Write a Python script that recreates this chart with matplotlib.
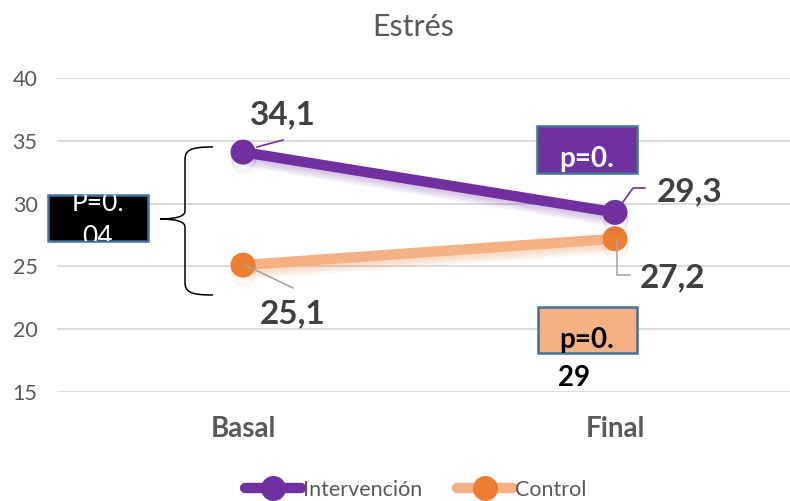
import matplotlib.pyplot as plt
import matplotlib.patheffects as pe
from matplotlib.patches import Rectangle, PathPatch
from matplotlib.path import Path
from matplotlib.lines import Line2D

plt.rcParams['font.family'] = ['Lato', 'DejaVu Sans']

# data
categories = ['Basal', 'Final']
intervencion = [34.1, 29.3]
control = [25.1, 27.2]
yticks = [15, 20, 25, 30, 35, 40]

purple = '#7030A0'
orange_mk = '#ED7D31'
orange_ln = '#F4B183'
grey = '#595959'

W, H = 790, 501
fig = plt.figure(figsize=(W / 100, H / 100), dpi=100)
# plot area: x -0.5..1.5 spans px 57..801, y 15..40 spans px 392..78
ax = fig.add_axes([57 / W, 1 - 392 / H, (801 - 57) / W, (392 - 78) / H])
ax.set_xlim(-0.5, 1.5)
ax.set_ylim(15, 40)
ax.set_yticks(yticks)
ax.yaxis.grid(True, color='#D9D9D9', lw=1.3)
ax.set_axisbelow(True)
for s in ax.spines.values():
    s.set_visible(False)
ax.tick_params(axis='y', length=0, labelsize=15.5, labelcolor=grey, pad=14)
ax.set_xticks([0, 1])
ax.set_xticklabels(categories, fontsize=20, fontweight='bold', color=grey)
ax.tick_params(axis='x', length=0, pad=17)

x = range(len(categories))


def shadow(c):
    # a few stacked faint shadows to fake the soft glow under the lines
    fx = [pe.SimpleLineShadow(offset=(0.5, -d), alpha=0.07, shadow_color=c) for d in (2, 3.5, 5, 6.5)]
    return fx + [pe.Normal()]


ax.plot(x, control, color=orange_ln, lw=7.5, marker='o', ms=17, mfc=orange_mk, mec=orange_mk,
        solid_capstyle='round', path_effects=shadow(orange_mk), zorder=3)
ax.plot(x, intervencion, color=purple, lw=7.5, marker='o', ms=17, mfc=purple, mec=purple,
        solid_capstyle='round', path_effects=shadow(purple), zorder=4)


def px(xp, yp):
    return ((xp - 243) / 372, 40 - (yp - 78) / 62.8 * 5)


lab = dict(fontsize=24, fontweight='bold', color='#404040', ha='center', va='center')
# data labels with leader lines
ax.text(*px(283, 115), '34,1', **lab)
ax.plot(*zip(px(257, 147), px(283, 140)), color=purple, lw=1.2, zorder=5)
ax.text(*px(690, 192), '29,3', **lab)
ax.plot(*zip(px(623, 202), px(633, 188), px(645, 188)), color=purple, lw=1.2, zorder=5)
ax.text(*px(672, 278), '27,2', **lab)
ax.plot(*zip(px(617, 240), px(617, 275), px(630, 275)), color='#A6A6A6', lw=1.2, zorder=5)
ax.text(*px(293, 314), '25,1', **lab)
ax.plot(*zip(px(245, 265), px(293, 288)), color='#A6A6A6', lw=1.2, zorder=5)

# curly brace
top, bot, mid, tip = 147, 295, 219, 160
verts = [(213, top), (190, top), (185, 150), (185, 160),
         (185, mid - 8), (185, mid), (tip, mid),
         (185, mid), (185, mid + 8), (185, bot - 13),
         (185, bot - 3), (190, bot), (213, bot)]
codes = [Path.MOVETO, Path.CURVE4, Path.CURVE4, Path.CURVE4,
         Path.LINETO, Path.CURVE3, Path.CURVE3,
         Path.CURVE3, Path.CURVE3, Path.LINETO,
         Path.CURVE4, Path.CURVE4, Path.CURVE4]
ax.add_patch(PathPatch(Path([px(*v) for v in verts], codes), fc='none', ec='black', lw=1.1,
                       clip_on=False, zorder=5))


def fig_box(x0, y0, x1, y1, fc):
    r = Rectangle((x0 / W, 1 - y1 / H), (x1 - x0) / W, (y1 - y0) / H, transform=fig.transFigure,
                  fc=fc, ec='#41719C', lw=1.8, zorder=6)
    fig.add_artist(r)
    return r


r1 = fig_box(48, 195, 148, 241, 'black')
for txt, yb in [('P=0.', 211), ('04', 245)]:
    t = fig.text(98 / W, 1 - yb / H, txt, color='white', fontsize=19, ha='center', va='baseline',
                 zorder=7)
    t.set_clip_path(r1)

fig_box(537, 126, 637, 173, purple)
fig.text(587 / W, 1 - 167 / H, 'p=0.', color='white', fontsize=20, fontweight='bold', ha='center',
         va='baseline', zorder=7)
fig_box(538, 307, 637, 353, orange_ln)
fig.text(587 / W, 1 - 348 / H, 'p=0.', color='black', fontsize=20, fontweight='bold', ha='center',
         va='baseline', zorder=7)
fig.text(574 / W, 1 - 386 / H, '29', color='black', fontsize=20, fontweight='bold', ha='center',
         va='baseline', zorder=7)

fig.text(413 / W, 1 - 27 / H, 'Estrés', fontsize=22, color=grey, ha='center', va='center')

handles = [Line2D([], [], color=purple, lw=7.5, marker='o', ms=17, mfc=purple, mec=purple,
                  solid_capstyle='round'),
           Line2D([], [], color=orange_ln, lw=7.5, marker='o', ms=17, mfc=orange_mk, mec=orange_mk,
                  solid_capstyle='round')]
fig.legend(handles, ['Intervención', 'Control'], loc='center', bbox_to_anchor=(416 / W, 1 - 490 / H),
           ncol=2, frameon=False, fontsize=15.5, labelcolor=grey, handlelength=2.6,
           handletextpad=0.1, columnspacing=1.6, borderpad=0)

fig.savefig('out.png', dpi=100)
